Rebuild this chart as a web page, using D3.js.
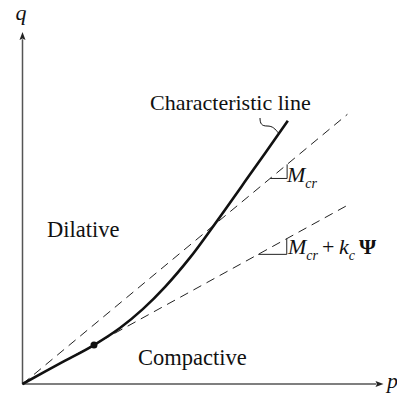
<!DOCTYPE html>
<html>
<head>
<meta charset="utf-8">
<script src="https://d3js.org/d3.v7.min.js"></script>
<style>
  body {margin: 0; background: #fff;}
  text {font-family: "Liberation Serif", "Times New Roman", serif; fill: #111;}
  .axis {stroke: #555; stroke-width: 1.5; fill: none;}
  .dash {stroke: #222; stroke-width: 1; stroke-dasharray: 9,6; fill: none;}
  .tri {stroke: #222; stroke-width: 1; fill: none;}
  .char {stroke: #111; stroke-width: 2.6; fill: none;}
</style>
</head>
<body>
<svg id="chart" width="397" height="394"></svg>
<script>
// characteristic line (p, q)
var charP = [0, 1.04, 1.98, 2.70, 3.34, 3.95, 4.64, 5.19, 6.30, 7.35];
var charQ = [0, 0.57, 1.08, 1.55, 2.08, 2.69, 3.50, 4.24, 5.80, 7.29];
// slopes of the two dashed lines
var slopeMcr = 0.83;
var slopeMk = 0.55;
var dashEnd = 9.0;
// tangency point
var dotP = 1.98, dotQ = 1.08;

var svg = d3.select("#chart");

var x = d3.scaleLinear().domain([0, 10]).range([22.5, 383.5]);
var y = d3.scaleLinear().domain([0, 10]).range([384, 23]);

// axes with arrowheads
svg.append("line").attr("class", "axis")
  .attr("x1", x(0)).attr("y1", y(0)).attr("x2", x(0)).attr("y2", y(9.55));
svg.append("line").attr("class", "axis")
  .attr("x1", x(0)).attr("y1", y(0)).attr("x2", x(9.8)).attr("y2", y(0));

svg.append("path")
  .attr("d", "M" + x(0) + "," + y(9.75) + " l-3,8 l3,-1.5 l3,1.5 z")
  .attr("fill", "#222");
svg.append("path")
  .attr("d", "M" + x(10) + "," + y(0) + " l-8,-3 l1.5,3 l-1.5,3 z")
  .attr("fill", "#222");

svg.append("text").attr("x", x(0) - 7).attr("y", 20)
  .style("font-style", "italic").style("font-size", "22px").text("q");
svg.append("text").attr("x", 387).attr("y", 388)
  .style("font-style", "italic").style("font-size", "22px").text("p");

// dashed lines
[slopeMcr, slopeMk].forEach(function(s){
  svg.append("line").attr("class", "dash")
    .attr("x1", x(0)).attr("y1", y(0))
    .attr("x2", x(dashEnd)).attr("y2", y(dashEnd * s));
});

// slope triangles
function triangle(s, pv, len){
  var pts = [[pv - len, s * (pv - len)], [pv, s * (pv - len)], [pv, s * pv]];
  svg.append("path").attr("class", "tri")
    .attr("d", d3.line().x(function(d){return x(d[0]);}).y(function(d){return y(d[1]);})(pts));
}
triangle(slopeMcr, 7.33, 0.47);
triangle(slopeMk, 7.32, 0.79);

// characteristic line
var pts = charP.map(function(p, i){ return [p, charQ[i]]; });
var line = d3.line()
  .x(function(d){return x(d[0]);})
  .y(function(d){return y(d[1]);})
  .curve(d3.curveCatmullRom.alpha(0.5));
svg.append("path").attr("class", "char").attr("d", line(pts));

svg.append("circle").attr("cx", x(dotP)).attr("cy", y(dotQ)).attr("r", 3.5).attr("fill", "#111");

// leader for label
svg.append("path")
  .attr("d", "M260,118 C260,124 262,126 267,126 C273,126 275,129 278.5,133")
  .attr("stroke", "#111").attr("stroke-width", 1).attr("fill", "none");

svg.append("text").attr("x", 150).attr("y", 110).style("font-size", "22px").text("Characteristic line");
svg.append("text").attr("x", 47).attr("y", 237).style("font-size", "22.5px").text("Dilative");
svg.append("text").attr("x", 138).attr("y", 365).style("font-size", "22.5px").text("Compactive");

// M_cr label
var t1 = svg.append("text").attr("x", 287).attr("y", 181.5).style("font-size", "22px");
t1.append("tspan").style("font-style", "italic").text("M");
t1.append("tspan").style("font-style", "italic").style("font-size", "14px").attr("dy", 6.5).text("cr");

// M_cr + k_c psi label
var t2 = svg.append("text").attr("x", 288).attr("y", 253.5).style("font-size", "22px");
t2.append("tspan").style("font-style", "italic").text("M");
t2.append("tspan").style("font-style", "italic").style("font-size", "14px").attr("dy", 6.5).text("cr");
t2.append("tspan").attr("dy", -6.5).attr("x", 322).text("+");
t2.append("tspan").style("font-style", "italic").attr("x", 339).text("k");
t2.append("tspan").style("font-style", "italic").style("font-size", "14px").attr("dy", 6.5).text("c");
t2.append("tspan").attr("dy", -6.5).attr("x", 359).style("font-weight", "bold").text("\u03A8");
</script>
</body>
</html>
